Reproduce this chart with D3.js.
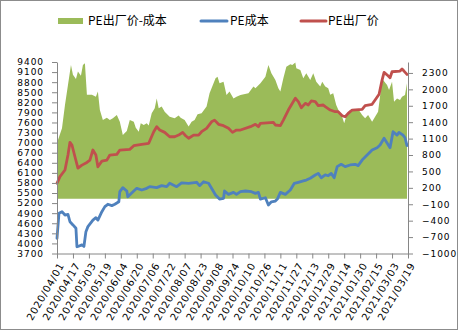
<!DOCTYPE html>
<html>
<head>
<meta charset="utf-8">
<script src="https://cdn.jsdelivr.net/npm/d3@7/dist/d3.min.js"></script>
<style>
  html, body { margin: 0; padding: 0; background: #fff; }
  svg { display: block; }
  .axis text { font-family: "DejaVu Sans", sans-serif; fill: #000; }
  .axis.y text { font-size: 9px; letter-spacing: 0.95px; }
  .axis.x text { font-size: 10px; letter-spacing: 0.7px; }
  .axis path, .axis line { stroke: #868686; }
  .legend text { font-family: "Noto Sans CJK SC", sans-serif; font-size: 12px; fill: #000; }
</style>
</head>
<body>
<svg id="chart" width="458" height="330"></svg>
<script>
// PE ex-factory price (left axis)
const priceSeries = [
  ["2020-04-01",5790],["2020-04-04",5990],["2020-04-09",6185],["2020-04-12",6630],["2020-04-14",7010],
  ["2020-04-16",6930],["2020-04-19",6580],["2020-04-22",6240],["2020-04-26",6330],["2020-05-01",6410],
  ["2020-05-04",6480],["2020-05-07",6780],["2020-05-10",6630],["2020-05-12",6280],["2020-05-16",6450],
  ["2020-05-21",6480],["2020-05-24",6630],["2020-05-31",6650],["2020-06-03",6780],["2020-06-13",6800],
  ["2020-06-17",6910],["2020-06-25",6950],["2020-07-02",6980],["2020-07-07",7325],["2020-07-10",7475],
  ["2020-07-13",7375],["2020-07-18",7305],["2020-07-23",7175],["2020-07-28",7175],["2020-08-01",7225],
  ["2020-08-05",7305],["2020-08-08",7205],["2020-08-11",7130],["2020-08-16",7225],["2020-08-21",7225],
  ["2020-08-24",7325],["2020-08-29",7425],["2020-09-03",7620],["2020-09-06",7670],["2020-09-10",7545],
  ["2020-09-15",7505],["2020-09-20",7425],["2020-09-24",7305],["2020-09-28",7375],["2020-10-02",7375],
  ["2020-10-12",7475],["2020-10-17",7545],["2020-10-20",7475],["2020-10-22",7575],["2020-11-04",7605],
  ["2020-11-06",7525],["2020-11-11",7505],["2020-11-14",7670],["2020-11-19",7970],["2020-11-23",8170],
  ["2020-11-26",8320],["2020-11-29",8220],["2020-12-02",8040],["2020-12-06",8170],["2020-12-09",8120],
  ["2020-12-12",8240],["2020-12-16",8220],["2020-12-19",8100],["2020-12-24",8120],["2020-12-26",8070],
  ["2020-12-31",7970],["2021-01-05",7920],["2021-01-08",7920],["2021-01-12",7800],["2021-01-15",7770],
  ["2021-01-18",7870],["2021-01-22",7970],["2021-02-01",7990],["2021-02-04",8100],["2021-02-11",8140],
  ["2021-02-14",8270],["2021-02-18",8440],["2021-02-21",8860],["2021-02-23",9090],["2021-02-27",8990],
  ["2021-03-01",8930],["2021-03-03",9110],["2021-03-11",9130],["2021-03-13",9190],["2021-03-15",9130],
  ["2021-03-18",9030]
];

// PE cost (left axis)
const costSeries = [
  ["2020-04-01",4150],["2020-04-03",4900],["2020-04-06",4945],["2020-04-09",4845],["2020-04-12",4865],
  ["2020-04-14",4645],["2020-04-17",4550],["2020-04-20",4450],["2020-04-21",3900],["2020-04-22",3910],
  ["2020-04-26",3955],["2020-04-28",3910],["2020-04-30",4350],["2020-05-02",4500],["2020-05-07",4695],
  ["2020-05-10",4765],["2020-05-12",4695],["2020-05-16",4945],["2020-05-19",5095],["2020-05-22",5165],
  ["2020-05-26",5125],["2020-05-29",5165],["2020-06-02",5240],["2020-06-03",5540],["2020-06-06",5660],
  ["2020-06-10",5560],["2020-06-11",5390],["2020-06-17",5560],["2020-06-20",5640],["2020-06-25",5590],
  ["2020-06-30",5640],["2020-07-03",5690],["2020-07-10",5660],["2020-07-15",5720],["2020-07-20",5690],
  ["2020-07-23",5790],["2020-07-30",5690],["2020-08-04",5805],["2020-08-11",5790],["2020-08-19",5820],
  ["2020-08-22",5720],["2020-08-26",5835],["2020-08-31",5790],["2020-09-03",5640],["2020-09-07",5440],
  ["2020-09-11",5320],["2020-09-15",5340],["2020-09-16",5560],["2020-09-20",5460],["2020-09-25",5520],
  ["2020-09-28",5460],["2020-10-02",5540],["2020-10-07",5560],["2020-10-13",5540],["2020-10-17",5490],
  ["2020-10-20",5520],["2020-10-22",5320],["2020-10-27",5360],["2020-10-30",5145],["2020-11-02",5240],
  ["2020-11-06",5260],["2020-11-08",5320],["2020-11-11",5520],["2020-11-16",5460],["2020-11-21",5590],
  ["2020-11-25",5790],["2020-11-29",5820],["2020-12-04",5860],["2020-12-07",5885],["2020-12-11",5940],
  ["2020-12-16",6035],["2020-12-19",6085],["2020-12-22",5955],["2020-12-26",6040],["2020-12-29",6015],
  ["2021-01-01",6085],["2021-01-04",5955],["2021-01-07",6285],["2021-01-11",6355],["2021-01-15",6285],
  ["2021-01-20",6335],["2021-01-25",6355],["2021-01-28",6315],["2021-02-01",6480],["2021-02-06",6630],
  ["2021-02-11",6780],["2021-02-16",6850],["2021-02-19",6930],["2021-02-23",7130],["2021-03-01",6850],
  ["2021-03-04",7325],["2021-03-08",7225],["2021-03-10",7305],["2021-03-14",7225],["2021-03-16",7145],
  ["2021-03-18",6910]
];

// price minus cost (right axis)
const marginSeries = [
  ["2020-04-01",1380],["2020-04-02",1075],["2020-04-06",1290],["2020-04-09",1715],["2020-04-12",2080],
  ["2020-04-15",2445],["2020-04-17",2265],["2020-04-20",2190],["2020-04-22",2325],["2020-04-25",2250],
  ["2020-04-27",2445],["2020-04-29",2475],["2020-05-01",1900],["2020-05-06",1900],["2020-05-10",1865],
  ["2020-05-12",1960],["2020-05-14",1625],["2020-05-17",1440],["2020-05-21",1480],["2020-05-24",1440],
  ["2020-05-27",1470],["2020-05-31",1530],["2020-06-03",1410],["2020-06-06",1165],["2020-06-10",1240],
  ["2020-06-13",1440],["2020-06-17",1410],["2020-06-19",1300],["2020-06-22",1225],["2020-06-24",1380],
  ["2020-06-27",1350],["2020-06-30",1380],["2020-07-02",1340],["2020-07-05",1565],["2020-07-08",1655],
  ["2020-07-10",1835],["2020-07-12",1655],["2020-07-15",1685],["2020-07-18",1590],["2020-07-23",1500],
  ["2020-07-28",1470],["2020-08-01",1520],["2020-08-03",1480],["2020-08-07",1440],["2020-08-11",1320],
  ["2020-08-14",1410],["2020-08-17",1440],["2020-08-20",1545],["2020-08-24",1565],["2020-08-29",1685],
  ["2020-09-01",1930],["2020-09-05",2110],["2020-09-07",2205],["2020-09-09",2230],["2020-09-11",2110],
  ["2020-09-15",2140],["2020-09-18",1895],["2020-09-21",1960],["2020-09-25",1835],["2020-09-28",1865],
  ["2020-10-02",1895],["2020-10-10",1930],["2020-10-15",2050],["2020-10-17",2020],["2020-10-22",2110],
  ["2020-10-27",2230],["2020-10-30",2445],["2020-11-02",2295],["2020-11-06",2170],["2020-11-09",2020],
  ["2020-11-11",1960],["2020-11-14",2205],["2020-11-17",2415],["2020-11-21",2460],["2020-11-23",2445],
  ["2020-11-26",2490],["2020-11-27",2385],["2020-12-01",2355],["2020-12-04",2205],["2020-12-07",2295],
  ["2020-12-11",2170],["2020-12-14",2295],["2020-12-17",2140],["2020-12-21",2050],["2020-12-23",2140],
  ["2020-12-26",2050],["2020-12-29",2020],["2020-12-31",1900],["2021-01-03",1930],["2021-01-06",1715],
  ["2021-01-09",1590],["2021-01-12",1500],["2021-01-14",1380],["2021-01-17",1565],["2021-01-20",1625],
  ["2021-01-25",1625],["2021-01-28",1640],["2021-02-01",1530],["2021-02-04",1470],["2021-02-07",1530],
  ["2021-02-11",1410],["2021-02-14",1500],["2021-02-17",1590],["2021-02-20",2020],["2021-02-22",2170],
  ["2021-02-26",2080],["2021-02-28",1990],["2021-03-03",2140],["2021-03-05",1775],["2021-03-08",1835],
  ["2021-03-11",1805],["2021-03-13",1865],["2021-03-16",1895],["2021-03-18",2110]
];

const dateTickLabels = [
  "2020/04/01","2020/04/17","2020/05/03","2020/05/19","2020/06/04","2020/06/20","2020/07/06",
  "2020/07/22","2020/08/07","2020/08/23","2020/09/08","2020/09/24","2020/10/10","2020/10/26",
  "2020/11/11","2020/11/27","2020/12/13","2020/12/29","2021/01/14","2021/01/30","2021/02/15",
  "2021/03/03","2021/03/19"
];
const leftTicks = [3700,4000,4300,4600,4900,5200,5500,5800,6100,6400,6700,7000,7300,7600,7900,8200,8500,8800,9100,9400];
const rightTicks = [-1000,-700,-400,-100,200,500,800,1100,1400,1700,2000,2300];

const legendNames = ["PE出厂价-成本", "PE成本", "PE出厂价"];
const colors = { margin: "#9BBB59", cost: "#4F81BD", price: "#C0504D" };

const parseDash = d3.utcParse("%Y-%m-%d");
const parseSlash = d3.utcParse("%Y/%m/%d");

const svg = d3.select("#chart");

// outer frame
svg.append("rect")
  .attr("x", 0.5).attr("y", 0.5).attr("width", 457).attr("height", 329)
  .attr("fill", "#fff").attr("stroke", "#8c8c8c");

const plot = { left: 57, right: 408, top: 62, bottom: 253.5 };

const x = d3.scaleUtc()
  .domain([parseSlash(dateTickLabels[0]), parseSlash(dateTickLabels[dateTickLabels.length - 1])])
  .range([plot.left, plot.right]);
const yLeft = d3.scaleLinear().domain([3700, 9400]).range([plot.bottom, plot.top]);
const yRight = d3.scaleLinear().domain([-1000, 2500]).range([plot.bottom, plot.top]);

// margin area on the right axis, anchored at zero
const area = d3.area()
  .x(d => x(parseDash(d[0])))
  .y0(yRight(0))
  .y1(d => yRight(d[1]));
svg.append("path")
  .datum(marginSeries)
  .attr("d", area)
  .attr("fill", colors.margin);

const lineLeft = d3.line()
  .x(d => x(parseDash(d[0])))
  .y(d => yLeft(d[1]));

svg.append("path")
  .datum(costSeries)
  .attr("d", lineLeft)
  .attr("fill", "none")
  .attr("stroke", colors.cost)
  .attr("stroke-width", 2.8)
  .attr("stroke-linejoin", "round")
  .attr("stroke-linecap", "round");

svg.append("path")
  .datum(priceSeries)
  .attr("d", lineLeft)
  .attr("fill", "none")
  .attr("stroke", colors.price)
  .attr("stroke-width", 2.8)
  .attr("stroke-linejoin", "round")
  .attr("stroke-linecap", "round");

// left axis
svg.append("g")
  .attr("class", "axis y")
  .attr("transform", `translate(${plot.left},0)`)
  .call(d3.axisLeft(yLeft).tickValues(leftTicks).tickSize(5).tickSizeOuter(0).tickPadding(8).tickFormat(d3.format("d")));

// right axis
svg.append("g")
  .attr("class", "axis y")
  .attr("transform", `translate(${plot.right},0)`)
  .call(d3.axisRight(yRight).tickValues(rightTicks).tickSize(5).tickSizeOuter(0).tickPadding(9).tickFormat(d3.format("d")));

// bottom date axis
const tickDates = dateTickLabels.map(parseSlash);
const gB = svg.append("g")
  .attr("class", "axis x")
  .attr("transform", `translate(0,${plot.bottom})`)
  .call(d3.axisBottom(x).tickValues(tickDates).tickSize(5).tickSizeOuter(0).tickFormat(""));

gB.selectAll(".tick").append("text")
  .attr("text-anchor", "end")
  .attr("transform", "translate(4,10) rotate(-60)")
  .attr("dy", "0.35em")
  .attr("fill", "#000")
  .text((d, i) => dateTickLabels[i]);

// legend
const legend = svg.append("g").attr("class", "legend");
legend.append("rect")
  .attr("x", 58).attr("y", 18).attr("width", 25).attr("height", 6)
  .attr("fill", colors.margin);
legend.append("text").attr("x", 88).attr("y", 21).attr("dy", "0.35em").text(legendNames[0]);

legend.append("line")
  .attr("x1", 201).attr("x2", 227).attr("y1", 21).attr("y2", 21)
  .attr("stroke", colors.cost).attr("stroke-width", 3).attr("stroke-linecap", "round");
legend.append("text").attr("x", 230).attr("y", 21).attr("dy", "0.35em").text(legendNames[1]);

legend.append("line")
  .attr("x1", 301).attr("x2", 326).attr("y1", 21).attr("y2", 21)
  .attr("stroke", colors.price).attr("stroke-width", 3).attr("stroke-linecap", "round");
legend.append("text").attr("x", 328).attr("y", 21).attr("dy", "0.35em").text(legendNames[2]);
</script>
</body>
</html>
